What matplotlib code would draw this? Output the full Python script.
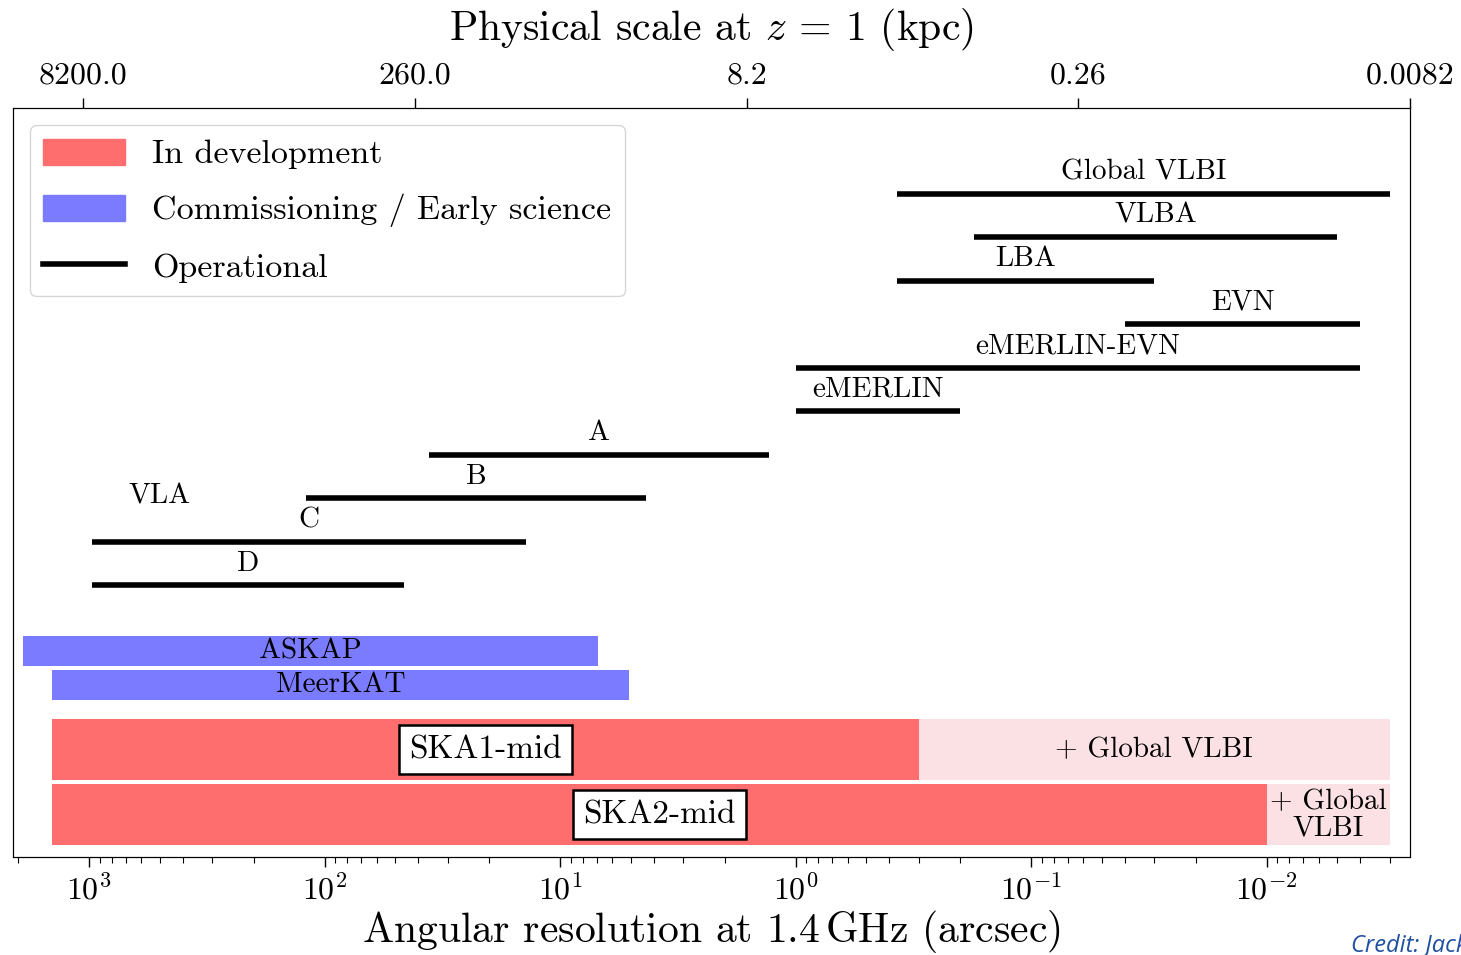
import matplotlib
matplotlib.use('Agg')
import matplotlib.pyplot as plt
from matplotlib.patches import Patch
from matplotlib.lines import Line2D
import numpy as np

plt.rcParams['font.family'] = 'serif'
plt.rcParams['font.serif'] = ['cmr10']
plt.rcParams['mathtext.fontset'] = 'cm'
plt.rcParams['axes.formatter.use_mathtext'] = True
plt.rcParams['axes.unicode_minus'] = False

# operational arrays: largest and smallest angular scale (arcsec)
op_names = ['Global VLBI', 'VLBA', 'LBA', 'EVN', 'eMERLIN-EVN', 'eMERLIN', 'A', 'B', 'C', 'D']
op_max = [0.37, 0.175, 0.37, 0.04, 1.0, 1.0, 36, 120, 970, 970]
op_min = [0.003, 0.005, 0.03, 0.004, 0.004, 0.2, 1.3, 4.3, 14, 46]

# commissioning / early science
com_names = ['ASKAP', 'MeerKAT']
com_max = [1900, 1430]
com_min = [6.9, 5.1]

# in development (+ extension with global VLBI)
dev_names = ['SKA1-mid', 'SKA2-mid']
dev_max = [1430, 1430]
dev_min = [0.3, 0.01]
dev_vlbi = [0.003, 0.003]
dev_vlbi_text = ['+ Global VLBI', '+ Global\nVLBI']

top_ticks = [8200.0, 260.0, 8.2, 0.26, 0.0082]
top_labels = ['8200.0', '260.0', '8.2', '0.26', '0.0082']

red = '#ff6e6e'
pink = '#fbe1e4'
blue = '#7b7bff'

fig = plt.figure(figsize=(14.61, 9.55), dpi=100)
ax = fig.add_axes([0.0087, 0.1026, 0.9563, 0.7844])
ax.set_xscale('log')
ax.set_xlim(2109, 0.002463)
ax.set_ylim(-0.25, 16.98)

def lcen(a, b):
    return np.sqrt(a * b)

# operational lines
for i, name in enumerate(op_names):
    y = 15 - i
    ax.plot([op_max[i], op_min[i]], [y, y], color='k', lw=4, solid_capstyle='butt')
    ax.text(lcen(op_max[i], op_min[i]), y + 0.5, name, ha='center', va='center', fontsize=21)
ax.text(500, 8.05, 'VLA', ha='center', va='center', fontsize=21)

# commissioning bars
com_y = [4.49, 3.70]
for i, name in enumerate(com_names):
    ax.barh(com_y[i], com_max[i] - com_min[i], left=com_min[i], height=0.69, color=blue)
    ax.text(lcen(com_max[i], com_min[i]), com_y[i], name, ha='center', va='center', fontsize=21)

# development bars
dev_y = [2.22, 0.72]
for i, name in enumerate(dev_names):
    ax.barh(dev_y[i], dev_min[i] - dev_vlbi[i], left=dev_vlbi[i], height=1.40, color=pink)
    ax.barh(dev_y[i], dev_max[i] - dev_min[i], left=dev_min[i], height=1.40, color=red)
    ax.text(lcen(dev_max[i], dev_min[i]), dev_y[i], name, ha='center', va='center', fontsize=24,
            bbox=dict(boxstyle='square,pad=0.3', fc='white', ec='k', lw=1.8))
    ax.text(lcen(dev_min[i], dev_vlbi[i]), dev_y[i], dev_vlbi_text[i], ha='center', va='center',
            fontsize=21, linespacing=1.0)

ax.set_yticks([])
ax.tick_params(axis='x', which='major', labelsize=23, length=7, width=1, pad=5)
ax.tick_params(axis='x', which='minor', length=4, width=0.8)
ax.set_xlabel('Angular resolution at 1.4$\\,$GHz (arcsec)', fontsize=30, labelpad=2)

ax2 = ax.twiny()
ax2.set_xscale('log')
ax2.set_xlim(17115, 0.0082)
ax2.set_xticks(top_ticks)
ax2.set_xticklabels(top_labels)
ax2.minorticks_off()
ax2.tick_params(axis='x', labelsize=23, length=7, width=1, pad=6)
ax2.set_xlabel('Physical scale at $z$ = 1 (kpc)', fontsize=30, labelpad=16)

handles = [Patch(color=red), Patch(color=blue), Line2D([], [], color='k', lw=4)]
labels = ['In development', 'Commissioning / Early science', 'Operational']
ax.legend(handles, labels, loc='upper left', fontsize=24.5, handlelength=2.4,
          borderaxespad=0.5, labelspacing=0.72, handletextpad=0.8, handleheight=0.8)

fig.text(0.925, 0.003, 'Credit: Jack Radcliffe', color='#1f4fa0', style='italic',
         fontsize=17, family='Open Sans')

fig.savefig('out.png', dpi=100)
